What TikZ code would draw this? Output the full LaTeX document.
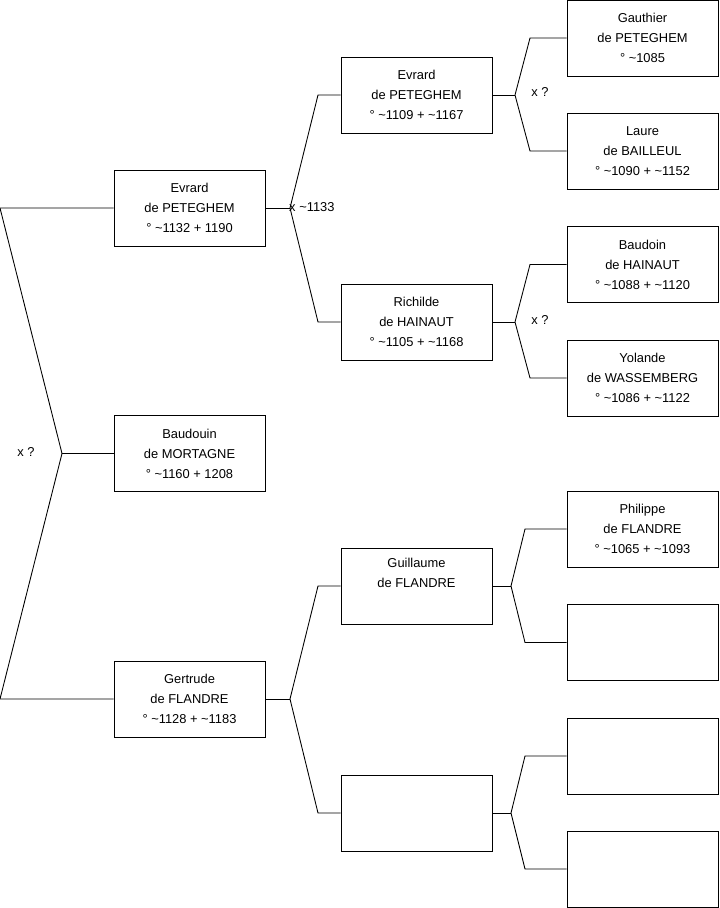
\documentclass[tikz,border=0pt]{standalone}
\usepackage{fontspec}
\setmainfont{Liberation Sans}
\newcommand{\env}{\textasciitilde}

\begin{document}
\begin{tikzpicture}[x=0.03cm,y=-0.03cm,
  personne/.style={draw,line width=0.75pt,minimum width=4.53cm,minimum height=2.28cm,
    inner sep=0pt,align=center,font=\fontsize{11}{17}\selectfont},
  lien/.style={line width=0.75pt},
  union/.style={inner sep=0pt,font=\fontsize{11}{13}\selectfont}]
  \useasboundingbox (0,0) rectangle (719,908);

  \node[personne] (evrard) at (189.5,208) {Evrard\\de PETEGHEM\\° \env1132 + 1190};
  \node[personne] (baudouin) at (189.5,453.5) {Baudouin\\de MORTAGNE\\° \env1160 + 1208};
  \node[personne] (gertrude) at (189.5,699) {Gertrude\\de FLANDRE\\° \env1128 + \env1183};

  \node[personne] (evrardp) at (416.5,95) {Evrard\\de PETEGHEM\\° \env1109 + \env1167};
  \node[personne] (richilde) at (416.5,322) {Richilde\\de HAINAUT\\° \env1105 + \env1168};
  \node[personne] (guillaume) at (416.5,586) {Guillaume\\de FLANDRE\\\strut};
  \node[personne] (inconnue) at (416.5,813) {};

  \node[personne] (gauthier) at (642.5,38) {Gauthier\\de PETEGHEM\\° \env1085};
  \node[personne] (laure) at (642.5,151) {Laure\\de BAILLEUL\\° \env1090 + \env1152};
  \node[personne] (baudoin) at (642.5,264.5) {Baudoin\\de HAINAUT\\° \env1088 + \env1120};
  \node[personne] (yolande) at (642.5,378) {Yolande\\de WASSEMBERG\\° \env1086 + \env1122};
  \node[personne] (philippe) at (642.5,529) {Philippe\\de FLANDRE\\° \env1065 + \env1093};
  \node[personne] (inconnu1) at (642.5,642.5) {};
  \node[personne] (inconnu2) at (642.5,756) {};
  \node[personne] (inconnu3) at (642.5,869) {};

  \coordinate (r1) at (0,208);
  \coordinate (r2) at (0,699);
  \coordinate (f0) at (62,453.5);
  \coordinate (f1) at (290,208);
  \coordinate (f1h) at (318,95);
  \coordinate (f1b) at (318,322);
  \coordinate (f2) at (290,699);
  \coordinate (f2h) at (318,586);
  \coordinate (f2b) at (318,813);
  \coordinate (f3) at (515,95);
  \coordinate (f3h) at (530,38);
  \coordinate (f3b) at (530,151);
  \coordinate (f4) at (515,322);
  \coordinate (f4h) at (530,264.5);
  \coordinate (f4b) at (530,378);
  \coordinate (f5) at (511,586);
  \coordinate (f5h) at (525,529);
  \coordinate (f5b) at (525,642.5);
  \coordinate (f6) at (511,813);
  \coordinate (f6h) at (525,756);
  \coordinate (f6b) at (525,869);

  \draw[lien] (evrard.west) -- (r1) -- (f0) -- (r2) -- (gertrude.west);
  \draw[lien] (f0) -- (baudouin.west);
  \draw[lien] (evrardp.west) -- (f1h) -- (f1) -- (f1b) -- (richilde.west);
  \draw[lien] (evrard.east) -- (f1);
  \draw[lien] (guillaume.west) -- (f2h) -- (f2) -- (f2b) -- (inconnue.west);
  \draw[lien] (gertrude.east) -- (f2);
  \draw[lien] (gauthier.west) -- (f3h) -- (f3) -- (f3b) -- (laure.west);
  \draw[lien] (evrardp.east) -- (f3);
  \draw[lien] (baudoin.west) -- (f4h) -- (f4) -- (f4b) -- (yolande.west);
  \draw[lien] (richilde.east) -- (f4);
  \draw[lien] (philippe.west) -- (f5h) -- (f5) -- (f5b) -- (inconnu1.west);
  \draw[lien] (guillaume.east) -- (f5);
  \draw[lien] (inconnu2.west) -- (f6h) -- (f6) -- (f6b) -- (inconnu3.west);
  \draw[lien] (inconnue.east) -- (f6);

  \node[union] (u0) at (26,452) {x ?};
  \node[union,anchor=west] (u1) at (289,207) {x \env1133};
  \node[union] (u3) at (540,92) {x ?};
  \node[union] (u4) at (540,320) {x ?};
\end{tikzpicture}
\end{document}
